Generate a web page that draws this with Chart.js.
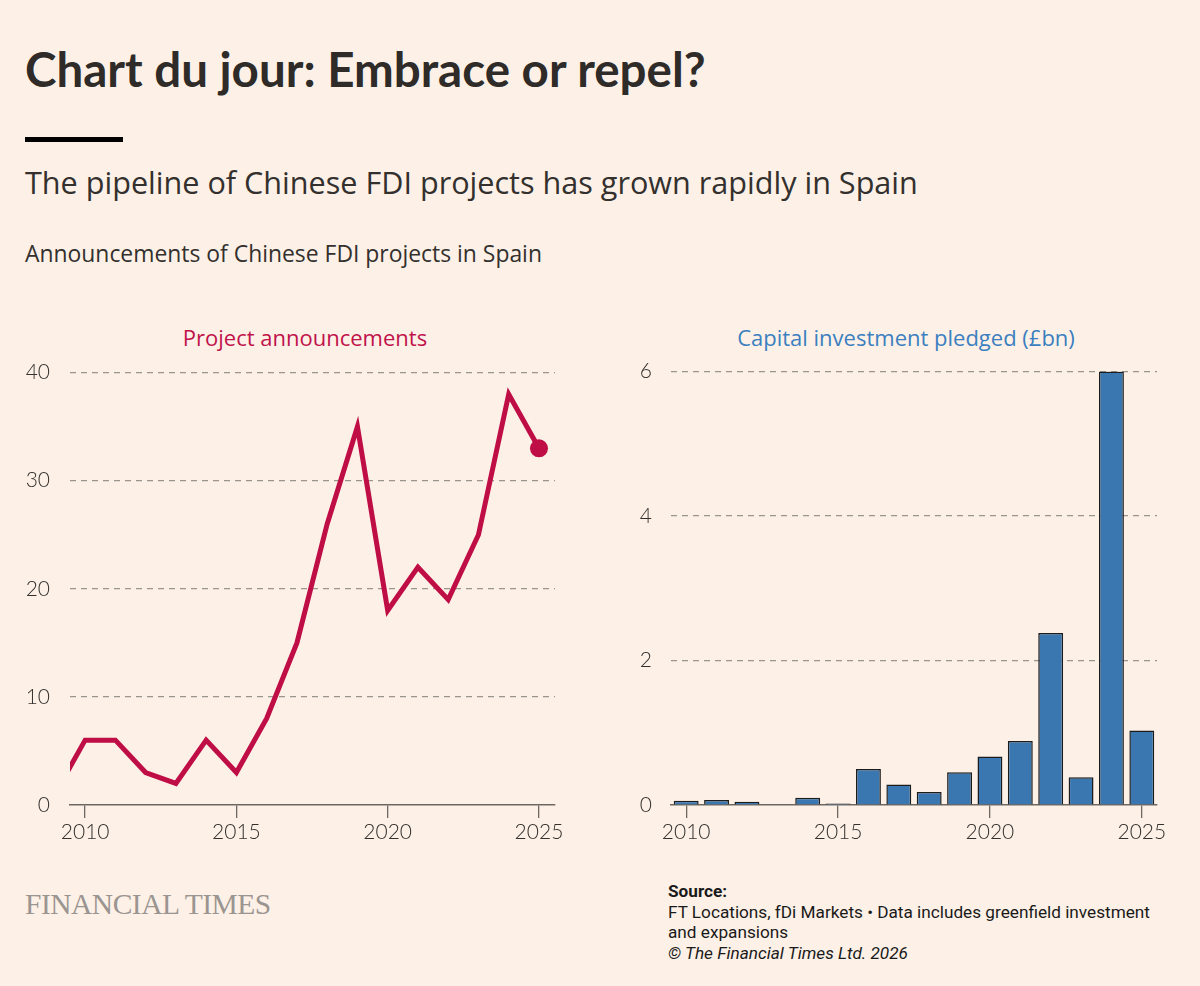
<!DOCTYPE html>
<html lang="en">
<head>
  <meta charset="UTF-8" />
  <title>Chart du jour: Embrace or repel?</title>
  <script src="https://cdn.jsdelivr.net/npm/chart.js"></script>
  <style>
    html, body { margin: 0; padding: 0; }
    body {
      width: 1200px;
      height: 986px;
      background: #fdf1e7;
      font-family: "Open Sans", "Lato", sans-serif;
      color: #33302e;
      position: relative;
      overflow: hidden;
    }
    .abs { position: absolute; white-space: nowrap; }
    .title { left: 25px; top: 42px; font-family: "Lato", sans-serif; font-size: 47.5px; font-weight: 700; line-height: 54px; color: #2e2b29; }
    .rule { left: 25px; top: 137px; width: 98px; height: 5px; background: #000; }
    .subtitle { left: 25px; top: 162px; font-size: 30.6px; line-height: 40px; color: #33302e; }
    .desc { left: 25px; top: 239px; font-size: 22.9px; line-height: 30px; color: #33302e; }
    .panel-title { top: 322px; width: 500px; text-align: center; font-size: 22px; line-height: 30px; }
    .pt-left { left: 55px; color: #c0134b; }
    .pt-right { left: 656px; color: #3b7fc0; }
    .chart-box { position: absolute; top: 340px; width: 580px; height: 510px; }
    .ft { left: 25px; top: 888px; font-family: "Liberation Serif", "DejaVu Serif", serif; font-size: 29.5px; color: #9b9591; letter-spacing: -0.5px; }
    .source { left: 668px; top: 881px; font-family: "Roboto", sans-serif; font-size: 17.2px; line-height: 20.5px; color: #1a1a1a; }
    .source b { font-weight: 700; }
  </style>
</head>
<body>
  <div class="abs title">Chart du jour: Embrace or repel?</div>
  <div class="abs rule"></div>
  <div class="abs subtitle">The pipeline of Chinese FDI projects has grown rapidly in Spain</div>
  <div class="abs desc">Announcements of Chinese FDI projects in Spain</div>

  <div class="abs panel-title pt-left">Project announcements</div>
  <div class="abs panel-title pt-right">Capital investment pledged (£bn)</div>

  <div class="chart-box" style="left:0px"><canvas id="lineChart"></canvas></div>
  <div class="chart-box" style="left:600px"><canvas id="barChart"></canvas></div>

  <div class="abs ft">FINANCIAL TIMES</div>
  <div class="abs source">
    <b>Source:</b><br>
    FT Locations, fDi Markets • Data includes greenfield investment<br>
    and expansions<br>
    <i>© The Financial Times Ltd. 2026</i>
  </div>

<script>
  // values
  const lineYears = [2009, 2010, 2011, 2012, 2013, 2014, 2015, 2016, 2017, 2018, 2019, 2020, 2021, 2022, 2023, 2024, 2025];
  const projectCounts = [1, 6, 6, 3, 2, 6, 3, 8, 15, 26, 35, 18, 22, 19, 25, 38, 33];

  const barYears = ["2010", "2011", "2012", "2013", "2014", "2015", "2016", "2017", "2018", "2019", "2020", "2021", "2022", "2023", "2024", "2025"];
  const capitalPledged = [0.06, 0.07, 0.045, 0.01, 0.1, 0.02, 0.5, 0.285, 0.18, 0.455, 0.67, 0.885, 2.38, 0.385, 6.0, 1.03];

  const xTickYears = [2010, 2015, 2020, 2025];
  const projectTicks = [0, 10, 20, 30, 40];
  const capitalTicks = [0, 2, 4, 6];

  const ink = "#33302e";
  const gridGrey = "#9a948f";
  const axisGrey = "#6e6863";
  const tickFont = { family: "Lato, 'Open Sans', sans-serif", size: 21, weight: 300 };

  Chart.defaults.animation = false;
  Chart.defaults.responsive = true;
  Chart.defaults.maintainAspectRatio = false;

  // line chart: project announcements
  new Chart(document.getElementById("lineChart"), {
    type: "line",
    data: {
      datasets: [{
        data: lineYears.map((y, i) => ({ x: y, y: projectCounts[i] })),
        borderColor: "#bf0d45",
        backgroundColor: "#bf0d45",
        borderWidth: 5,
        borderJoinStyle: "miter",
        tension: 0,
        pointRadius: ctx => ctx.dataIndex === lineYears.length - 1 ? 9 : 0,
        pointBorderWidth: 0,
        pointHoverRadius: 0
      }]
    },
    options: {
      layout: { padding: { top: 20, right: 25, bottom: 0, left: 0 } },
      plugins: { legend: { display: false }, tooltip: { enabled: false } },
      scales: {
        x: {
          type: "linear",
          min: 2009.5,
          max: 2025.53,
          afterBuildTicks: s => { s.ticks = xTickYears.map(v => ({ value: v })); },
          afterFit: s => { s.height = 45; },
          ticks: { color: ink, font: tickFont, padding: 2, callback: v => String(v), maxRotation: 0 },
          grid: { drawOnChartArea: false, drawTicks: true, tickLength: 13, color: axisGrey, lineWidth: 1.3 },
          border: { display: true, color: axisGrey, width: 1.5 }
        },
        y: {
          min: 0,
          max: 40,
          afterBuildTicks: s => { s.ticks = projectTicks.map(v => ({ value: v })); },
          afterFit: s => { s.width = 70; },
          ticks: { color: ink, font: tickFont, padding: 20 },
          grid: {
            drawTicks: false,
            lineWidth: 1.2,
            color: c => c.tick && c.tick.value === 0 ? "rgba(0,0,0,0)" : gridGrey
          },
          border: { display: false, dash: [6, 5] }
        }
      }
    }
  });

  // bar chart: capital investment pledged
  new Chart(document.getElementById("barChart"), {
    type: "bar",
    data: {
      labels: barYears,
      datasets: [{
        data: capitalPledged,
        backgroundColor: "#3a76b0",
        borderColor: "#1c1c1c",
        borderWidth: 1.5,
        borderSkipped: "start",
        categoryPercentage: 1,
        barPercentage: 0.82
      }]
    },
    options: {
      layout: { padding: { top: 20, right: 23, bottom: 0, left: 0 } },
      plugins: { legend: { display: false }, tooltip: { enabled: false } },
      scales: {
        x: {
          afterFit: s => { s.height = 45; },
          ticks: {
            color: ink,
            font: tickFont,
            padding: 2,
            maxRotation: 0,
            autoSkip: false,
            callback: function (v) {
              const lbl = this.getLabelForValue(v);
              return xTickYears.includes(Number(lbl)) ? lbl : "";
            }
          },
          grid: {
            offset: false,
            drawOnChartArea: false,
            drawTicks: true,
            tickLength: 13,
            lineWidth: 1.3,
            tickColor: c => xTickYears.includes(Number(barYears[c.index])) ? axisGrey : "rgba(0,0,0,0)"
          },
          border: { display: true, color: axisGrey, width: 1.5 }
        },
        y: {
          min: 0,
          max: 6,
          afterBuildTicks: s => { s.ticks = capitalTicks.map(v => ({ value: v })); },
          afterFit: s => { s.width = 71; },
          ticks: { color: ink, font: tickFont, padding: 19 },
          grid: {
            drawTicks: false,
            lineWidth: 1.2,
            color: c => c.tick && c.tick.value === 0 ? "rgba(0,0,0,0)" : gridGrey
          },
          border: { display: false, dash: [6, 5] }
        }
      }
    }
  });
</script>
</body>
</html>
